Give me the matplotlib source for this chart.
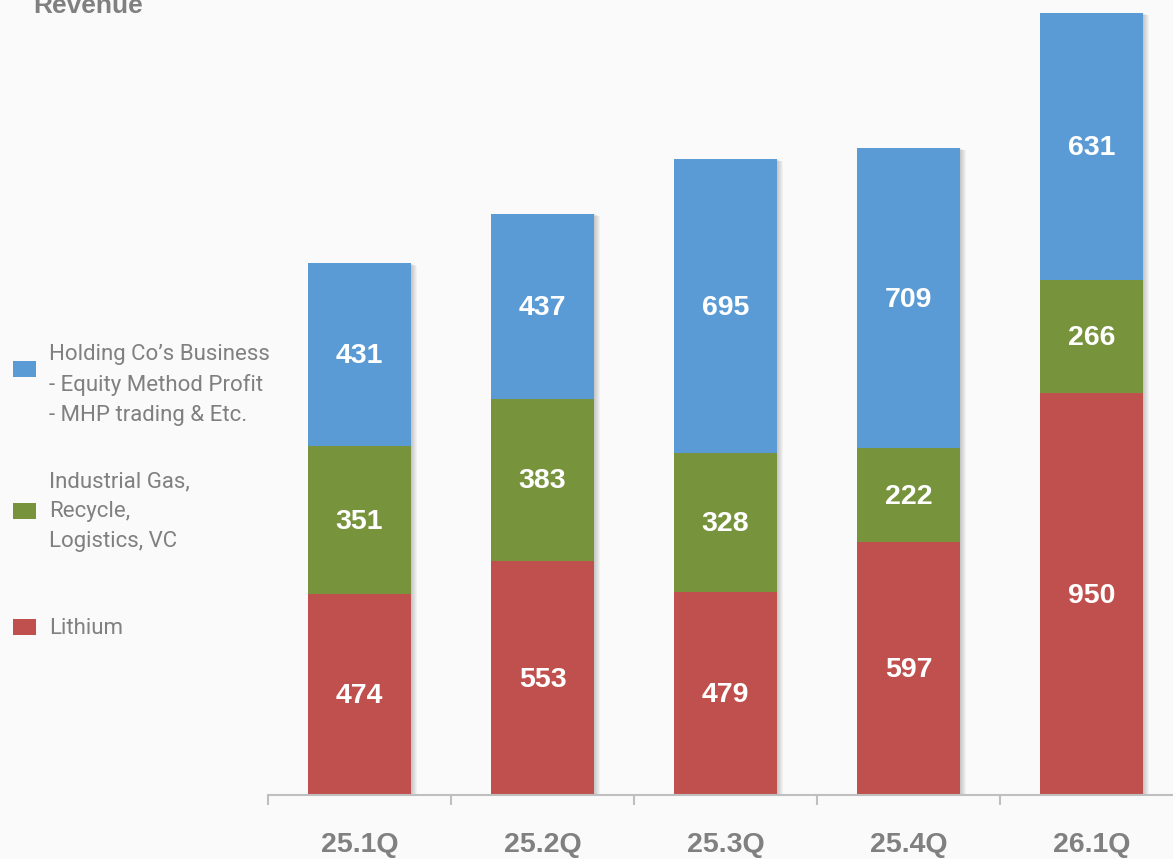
import matplotlib.pyplot as plt
from matplotlib.patches import Rectangle
from matplotlib import transforms

quarters = ['25.1Q', '25.2Q', '25.3Q', '25.4Q', '26.1Q']
lithium = [474, 553, 479, 597, 950]
industrial = [351, 383, 328, 222, 266]
holding = [431, 437, 695, 709, 631]

legend_labels = [
    "Holding Co\u2019s Business\n- Equity Method Profit\n- MHP trading & Etc.",
    "Industrial Gas,\nRecycle,\nLogistics, VC",
    "Lithium",
]

c_red = '#C0504D'
c_green = '#77933C'
c_blue = '#5B9BD5'
grey = '#808080'
bg = '#FAFAFA'

W, H = 1173, 859
fig = plt.figure(figsize=(W / 100, H / 100), dpi=100, facecolor=bg)
ax = fig.add_axes([268 / W, 64 / H, 915 / W, 795 / H], facecolor=bg)

x = list(range(len(quarters)))
bw = 0.565
totals = [a + b + c for a, b, c in zip(lithium, industrial, holding)]
bottom2 = [a + b for a, b in zip(lithium, industrial)]

# soft shadow right / below the bars
for k in range(1, 7):
    tr = transforms.offset_copy(ax.transData, fig=fig, x=k * 0.9, y=-k * 0.4, units='dots')
    ax.bar(x, totals, bw, color='#000000', alpha=0.035, transform=tr, zorder=1, linewidth=0)

ax.bar(x, lithium, bw, color=c_red, zorder=2, linewidth=0)
ax.bar(x, industrial, bw, bottom=lithium, color=c_green, zorder=2, linewidth=0)
ax.bar(x, holding, bw, bottom=bottom2, color=c_blue, zorder=2, linewidth=0)

lab = dict(ha='center', va='center', color='white', fontsize=20.5, fontweight='bold',
           family='Liberation Sans', zorder=3)
off = -4  # nudge labels down a touch
for i in x:
    ax.text(i, lithium[i] / 2 + off, str(lithium[i]), **lab)
    ax.text(i, lithium[i] + industrial[i] / 2 + off, str(industrial[i]), **lab)
    ax.text(i, bottom2[i] + holding[i] / 2 + off, str(holding[i]), **lab)

ax.set_xlim(-0.5, 4.5)
ax.set_ylim(0, 1877.5)
for s in ['top', 'right', 'left']:
    ax.spines[s].set_visible(False)
ax.spines['bottom'].set_color('#BFBFBF')
ax.spines['bottom'].set_linewidth(1.5)
ax.set_yticks([])
ax.set_xticks(x)
ax.set_xticklabels(quarters, fontsize=20.5, fontweight='bold', color=grey, family='Liberation Sans')
ax.tick_params(axis='x', which='major', length=0, pad=27)
ax.set_xticks([i - 0.5 for i in x] + [4.5], minor=True)
ax.tick_params(axis='x', which='minor', length=7, width=1.5, color='#BFBFBF')

fig.text(33 / W, 1 - 13 / H, 'Revenue', fontsize=19, fontweight='bold', color=grey,
         family='Liberation Sans', va='baseline', ha='left')

# legend drawn by hand
sq_y = [369, 511, 627]
txt_y = [385, 512, 628]
cols = [c_blue, c_green, c_red]
for lbl, sy, ty, c in zip(legend_labels, sq_y, txt_y, cols):
    fig.patches.append(Rectangle((13 / W, 1 - (sy + 8) / H), 23 / W, 16 / H,
                                 transform=fig.transFigure, color=c, linewidth=0))
    fig.text(49 / W, 1 - ty / H, lbl, fontsize=16, color=grey, family='Roboto',
             va='center', ha='left', linespacing=1.55)

fig.savefig('out.png', dpi=100, facecolor=bg)
